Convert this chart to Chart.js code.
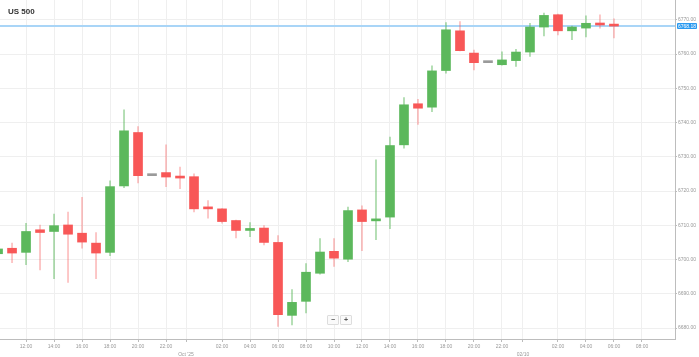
<!DOCTYPE html>
<html>
<head>
<meta charset="utf-8">
<script src="https://cdn.jsdelivr.net/npm/chart.js@4/dist/chart.umd.min.js"></script>
<style>
  html,body{margin:0;padding:0;background:#fff;}
  #wrap{position:relative;width:699px;height:357px;}
  #title{position:absolute;left:8px;top:7px;font:bold 8px "Liberation Sans",Arial,sans-serif;color:#333;}
  #zoom{position:absolute;left:327px;top:315px;display:flex;gap:1px;}
  #zoom div{width:10px;height:8px;border:1px solid #ddd;border-radius:1px;background:#fafafa;font:bold 7px "Liberation Sans",Arial,sans-serif;color:#555;text-align:center;line-height:8px;}
</style>
</head>
<body>
<div id="wrap">
<canvas id="c" width="699" height="357"></canvas>
<div id="title">US 500</div>
<div id="zoom"><div>−</div><div>+</div></div>
</div>
<script>
// hour index (0 = 00:00 on Oct 1)
const hours  = [10,11,12,13,14,15,16,17,18,19,20,21,22,23,24,25,26,27,28,29,30,31,32,33,34,35,36,37,38,39,40,41,42,43,44,45,46,47,48,49,50,51,52,53,54];
const opens  = [6701.7,6703.3,6702.1,6708.7,6708.2,6710.1,6707.7,6704.8,6702.1,6721.5,6737.1,6724.5,6725.4,6724.2,6724.2,6715.3,6714.8,6711.4,6708.5,6709.2,6705.0,6683.7,6687.8,6696.0,6702.4,6700.1,6714.5,6711.3,6712.4,6733.5,6745.5,6744.5,6755.2,6766.8,6760.3,6757.5,6756.9,6758.1,6760.6,6767.9,6771.5,6766.8,6767.6,6768.8,6768.3];
const highs  = [6703.8,6704.8,6710.6,6710.1,6713.3,6713.9,6718.2,6707.9,6723.0,6743.7,6738.8,6724.5,6733.5,6727.0,6725.0,6717.2,6714.9,6711.5,6710.8,6709.9,6707.0,6691.2,6698.8,6706.1,6706.1,6715.3,6715.7,6729.1,6735.8,6747.3,6746.8,6756.6,6769.2,6769.5,6761.2,6757.5,6760.7,6761.4,6769.0,6772.0,6771.7,6768.2,6771.2,6771.5,6770.3];
const lows   = [6700.5,6699.1,6698.5,6697.0,6694.4,6693.3,6703.3,6694.4,6701.1,6721.0,6722.4,6724.5,6721.3,6720.7,6713.9,6712.1,6710.6,6706.3,6706.7,6704.3,6680.5,6680.9,6684.4,6695.7,6698.0,6699.4,6702.6,6705.8,6709.0,6732.5,6739.5,6743.2,6754.4,6760.9,6755.4,6757.5,6756.8,6756.4,6759.3,6765.3,6765.6,6764.2,6765.0,6767.6,6764.7];
const closes = [6703.1,6701.9,6708.2,6707.9,6709.9,6707.4,6705.1,6701.9,6721.3,6737.6,6724.5,6724.5,6724.1,6723.8,6714.8,6714.8,6711.1,6708.5,6708.8,6705.0,6683.9,6687.5,6696.3,6702.2,6700.4,6714.3,6711.1,6711.7,6733.3,6745.2,6744.2,6755.1,6767.1,6761.0,6757.5,6757.5,6758.3,6760.6,6767.9,6771.3,6766.8,6767.9,6769.0,6768.5,6768.18];

const xTickValues = [12,14,16,18,20,22,23.43,26,28,30,32,34,36,38,40,42,44,46,47.5,50,52,54,56];
const xTickLabels = ["12:00","14:00","16:00","18:00","20:00","22:00",["","Oct '25"],"02:00","04:00","06:00","08:00","10:00","12:00","14:00","16:00","18:00","20:00","22:00",["","02/10"],"02:00","04:00","06:00","08:00"];
const yTickValues = [6680,6690,6700,6710,6720,6730,6740,6750,6760,6770];

const X_MIN = 10.14, X_MAX = 58.36, Y_MIN = 6676.8, Y_MAX = 6775.8;
const lastPrice = closes[closes.length-1];

const GREEN = '#5cb85c', RED = '#f85757', GRAY = '#9a9a9a';
const bodyColors = opens.map((o,i)=> closes[i]>o ? GREEN : (closes[i]<o ? RED : GRAY));
const wickColors = opens.map((o,i)=> closes[i]>o ? 'rgba(92,184,92,0.55)' : (closes[i]<o ? 'rgba(248,87,87,0.4)' : 'rgba(150,150,150,0.6)'));

const bodies = hours.map((h,i)=>({x:h, y:[opens[i], closes[i]]}));
const wicks  = hours.map((h,i)=>({x:h, y:[lows[i], highs[i]]}));

const priceTag = {
  id:'priceTag',
  afterDraw(chart){
    const ctx = chart.ctx, ys = chart.scales.y;
    const y = ys.getPixelForValue(lastPrice);
    const x = chart.chartArea.right + 2;
    ctx.save();
    ctx.fillStyle = '#2a9af0';
    ctx.beginPath();
    if (ctx.roundRect) ctx.roundRect(x, y-3, 20, 6, 1); else ctx.rect(x, y-3, 20, 6);
    ctx.fill();
    ctx.fillStyle = '#fff';
    ctx.font = '5px "Liberation Sans", Arial, sans-serif';
    ctx.textAlign = 'center'; ctx.textBaseline = 'middle';
    ctx.fillText(lastPrice.toFixed(2), x+10, y+0.5);
    ctx.restore();
  }
};

new Chart(document.getElementById('c'), {
  type:'bar',
  data:{
    datasets:[
      {type:'line', data:[{x:X_MIN,y:lastPrice},{x:X_MAX,y:lastPrice}], borderColor:'#a9d5f7', borderWidth:2, pointRadius:0, order:3},
      {data:wicks, backgroundColor:wickColors, barThickness:1, grouped:false, order:2},
      {data:bodies, backgroundColor:bodyColors, barThickness:9, minBarLength:2, grouped:false, order:1}
    ]
  },
  options:{
    responsive:false,
    animation:false,
    layout:{padding:0},
    plugins:{legend:{display:false}, tooltip:{enabled:false}},
    scales:{
      x:{
        type:'linear', min:X_MIN, max:X_MAX, position:'bottom', offset:false,
        afterBuildTicks(s){ s.ticks = xTickValues.map(v=>({value:v})); },
        afterFit(s){ s.height = 18; s.paddingLeft = 0; s.paddingRight = 0; },
        ticks:{autoSkip:false, maxRotation:0, padding:1, color:'#999',
          font:{size:5, family:'"Liberation Sans", Arial, sans-serif', lineHeight:1.5},
          callback:(v,i)=>xTickLabels[i]},
        grid:{color:'#efefef', tickLength:3, tickColor:'#bbb', offset:false},
        border:{color:'#bdbdbd', width:1}
      },
      y:{
        type:'linear', min:Y_MIN, max:Y_MAX, position:'right',
        afterBuildTicks(s){ s.ticks = yTickValues.map(v=>({value:v})); },
        afterFit(s){ s.width = 24; s.paddingTop = 0; s.paddingBottom = 0; },
        ticks:{padding:1, color:'#999', font:{size:5, family:'"Liberation Sans", Arial, sans-serif'},
          callback:(v)=>Number(v).toFixed(2)},
        grid:{color:'#efefef', tickLength:2, tickColor:'#bbb'},
        border:{color:'#bdbdbd', width:1}
      }
    }
  },
  plugins:[priceTag]
});
</script>
</body>
</html>
